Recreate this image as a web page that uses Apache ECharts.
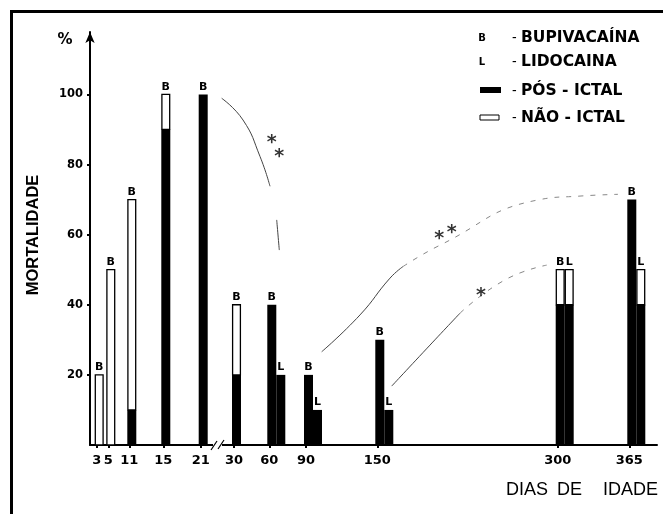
<!DOCTYPE html>
<html>
<head>
<meta charset="utf-8">
<script src="https://cdn.jsdelivr.net/npm/echarts@6/dist/echarts.min.js"></script>
<style>html,body{margin:0;padding:0;background:#fff;}#c{width:663px;height:514px;}</style>
</head>
<body>
<div id="c"></div>
<script>
// ---- Data ----
const ageDays = ['3', '5', '11', '15', '21', '30', '60', '90', '150', '300', '365'];
// position of each age on the (non-linear, broken) age axis, in axis units
const agePos = [6.7, 18.3, 39.3, 73.3, 110.7, 144, 179.3, 216, 287.3, 467.7, 539.3];
const yTicks = [20, 40, 60, 80, 100];

// Bupivacaína (B)
const bupDays = ['3', '5', '11', '15', '21', '30', '60', '90', '150', '300', '365'];
const bupPosIctal = [0, 0, 10, 90, 100, 20, 40, 20, 30, 40, 70];
const bupNaoIctal = [20, 50, 60, 10, 0, 20, 0, 0, 0, 10, 0];

// Lidocaína (L)
const lidDays = ['60', '90', '150', '300', '365'];
const lidPosIctal = [20, 10, 10, 40, 40];
const lidNaoIctal = [0, 0, 0, 10, 10];

// significance annotations (axis units, % mortality)
const curve1a = [[131.7, 98.9], [153, 92.7], [170, 82.3], [180, 73.8]];
const curve1b = [[186.7, 64.2], [189.3, 55.6]];
const curve2a = [[231.7, 26.6], [270, 37.1], [300, 47.6], [313, 50.9]];
const curve2b = [[313, 50.9], [350, 57], [448, 69.9], [490, 71], [528, 71.5]];
const curve3a = [[301.7, 16.8], [340, 28.5], [370, 37.6]];
const curve3b = [[370, 37.6], [415, 47.1], [456.7, 51.3]];
const stars = [[181.7, 87.8], [189.3, 83.7], [349.3, 60.4], [361.7, 62.3], [391, 44.2]];

// ---- Build ----
function posOf(d) { return agePos[ageDays.indexOf(d)]; }
const bupData = bupDays.map((d, i) => [posOf(d), bupPosIctal[i], bupNaoIctal[i]]);
const lidData = lidDays.map((d, i) => [posOf(d), lidPosIctal[i], lidNaoIctal[i]]);

const NUM_FONT = '"DejaVu Sans", sans-serif';
const TXT_FONT = '"Liberation Sans", Arial, sans-serif';

function makeRender(letter, offset) {
  return function (params, api) {
    const x = api.value(0), p = api.value(1), n = api.value(2);
    const base = api.coord([x, 0]);
    const pTop = api.coord([x, p]);
    const tTop = api.coord([x, p + n]);
    const w = 9;
    const cx = base[0] + offset;
    const children = [];
    if (p > 0) {
      children.push({ type: 'rect', shape: { x: cx - w / 2, y: pTop[1], width: w, height: base[1] - pTop[1] },
        style: { fill: '#000' } });
    }
    if (n > 0) {
      children.push({ type: 'rect', shape: { x: cx - w / 2 + 0.6, y: tTop[1], width: w - 1.2, height: pTop[1] - tTop[1] },
        style: { fill: '#fff', stroke: '#000', lineWidth: 1.3 } });
    }
    children.push({ type: 'text', style: { text: letter, x: cx, y: tTop[1] - 2, align: 'center', verticalAlign: 'bottom',
      font: 'bold 11px ' + NUM_FONT, fill: '#000' } });
    return { type: 'group', children: children };
  };
}

function lineSeries(data, dashed) {
  return { type: 'line', data: data, smooth: 0.5, symbol: 'none', silent: true, z: 1,
    lineStyle: { color: dashed ? '#888' : '#444', width: 1, type: dashed ? [5, 7] : 'solid' } };
}

const chart = echarts.init(document.getElementById('c'), null, { renderer: 'canvas' });
chart.setOption({
  animation: false,
  backgroundColor: '#fff',
  grid: { left: 90, right: 6, top: 32, bottom: 69 },
  xAxis: {
    type: 'value', min: 0, max: 567,
    splitLine: { show: false },
    axisLine: { show: true, onZero: false, lineStyle: { color: '#000', width: 2 } },
    axisTick: { show: true, customValues: agePos, length: 3, lineStyle: { color: '#000', width: 2 } },
    axisLabel: { show: true, customValues: agePos, margin: 9, color: '#000',
      fontFamily: NUM_FONT, fontWeight: 'bold', fontSize: 13,
      formatter: v => { const i = agePos.findIndex(p => Math.abs(p - v) < 0.01); return i >= 0 ? ageDays[i] : ''; } }
  },
  yAxis: {
    type: 'value', min: 0, max: 117.8,
    splitLine: { show: false },
    axisLine: { show: true, symbol: ['none', 'arrow'], symbolSize: [7, 11], lineStyle: { color: '#000', width: 2 } },
    axisTick: { show: true, customValues: yTicks, length: 3, lineStyle: { color: '#000', width: 2 } },
    axisLabel: { show: true, customValues: yTicks, margin: 7, color: '#000',
      fontFamily: NUM_FONT, fontWeight: 'bold', fontSize: 11.5 }
  },
  series: [
    lineSeries(curve1a, false), lineSeries(curve1b, false),
    lineSeries(curve2a, false), lineSeries(curve2b, true),
    lineSeries(curve3a, false), lineSeries(curve3b, true),
    { type: 'scatter', data: stars, symbolSize: 0, silent: true,
      label: { show: true, position: 'inside', formatter: '*', offset: [0, 6], color: '#000',
        fontFamily: NUM_FONT, fontWeight: 'bold', fontSize: 19 } },
    { type: 'custom', name: 'B', data: bupData, renderItem: makeRender('B', 2.5), z: 3 },
    { type: 'custom', name: 'L', data: lidData, renderItem: makeRender('L', 11.5), z: 3 }
  ],
  graphic: [
    // frame
    { type: 'line', shape: { x1: 10, y1: 11.5, x2: 663, y2: 11.5 }, style: { stroke: '#000', lineWidth: 3 } },
    { type: 'line', shape: { x1: 11.5, y1: 10, x2: 11.5, y2: 514 }, style: { stroke: '#000', lineWidth: 3 } },
    // axis break
    { type: 'rect', shape: { x: 213, y: 441, width: 9, height: 7 }, style: { fill: '#fff' }, z: 10 },
    { type: 'line', shape: { x1: 211, y1: 450, x2: 217, y2: 441 }, style: { stroke: '#000', lineWidth: 1.2 }, z: 11 },
    { type: 'line', shape: { x1: 218, y1: 449, x2: 224, y2: 440 }, style: { stroke: '#000', lineWidth: 1.2 }, z: 11 },
    // axis titles
    { type: 'text', x: 65, y: 40, style: { text: '%', align: 'center', verticalAlign: 'middle',
      font: 'bold 15px ' + NUM_FONT, fill: '#000' } },
    { type: 'text', x: 33, y: 235, rotation: Math.PI / 2, style: { text: 'MORTALIDADE', align: 'center', verticalAlign: 'middle',
      font: 'bold 16.5px ' + TXT_FONT, fill: '#000' } },
    { type: 'text', x: 548, y: 490, style: { text: 'DIAS', align: 'right', verticalAlign: 'middle', font: '18px ' + TXT_FONT, fill: '#000' } },
    { type: 'text', x: 557, y: 490, style: { text: 'DE', align: 'left', verticalAlign: 'middle', font: '18px ' + TXT_FONT, fill: '#000' } },
    { type: 'text', x: 603, y: 490, style: { text: 'IDADE', align: 'left', verticalAlign: 'middle', font: '18px ' + TXT_FONT, fill: '#000' } },
    // legend
    { type: 'text', x: 482, y: 38, style: { text: 'B', align: 'center', verticalAlign: 'middle', font: 'bold 10px ' + NUM_FONT, fill: '#000' } },
    { type: 'text', x: 482, y: 62, style: { text: 'L', align: 'center', verticalAlign: 'middle', font: 'bold 10px ' + NUM_FONT, fill: '#000' } },
    { type: 'rect', shape: { x: 480, y: 87, width: 21, height: 6 }, style: { fill: '#000' } },
    { type: 'rect', shape: { x: 480, y: 115, width: 19, height: 5 }, style: { fill: '#fff', stroke: '#000', lineWidth: 1 } },
    { type: 'text', x: 512, y: 38, style: { text: '-', align: 'left', verticalAlign: 'middle', font: '14px ' + TXT_FONT, fill: '#000' } },
    { type: 'text', x: 512, y: 62, style: { text: '-', align: 'left', verticalAlign: 'middle', font: '14px ' + TXT_FONT, fill: '#000' } },
    { type: 'text', x: 512, y: 91, style: { text: '-', align: 'left', verticalAlign: 'middle', font: '14px ' + TXT_FONT, fill: '#000' } },
    { type: 'text', x: 512, y: 118, style: { text: '-', align: 'left', verticalAlign: 'middle', font: '14px ' + TXT_FONT, fill: '#000' } },
    { type: 'text', x: 521, y: 38, style: { text: 'BUPIVACAÍNA', align: 'left', verticalAlign: 'middle', font: 'bold 15.5px ' + NUM_FONT, fill: '#000' } },
    { type: 'text', x: 521, y: 62, style: { text: 'LIDOCAINA', align: 'left', verticalAlign: 'middle', font: 'bold 15.5px ' + NUM_FONT, fill: '#000' } },
    { type: 'text', x: 521, y: 91, style: { text: 'PÓS - ICTAL', align: 'left', verticalAlign: 'middle', font: 'bold 15.5px ' + NUM_FONT, fill: '#000' } },
    { type: 'text', x: 521, y: 118, style: { text: 'NÃO - ICTAL', align: 'left', verticalAlign: 'middle', font: 'bold 15.5px ' + NUM_FONT, fill: '#000' } }
  ]
});
</script>
</body>
</html>
